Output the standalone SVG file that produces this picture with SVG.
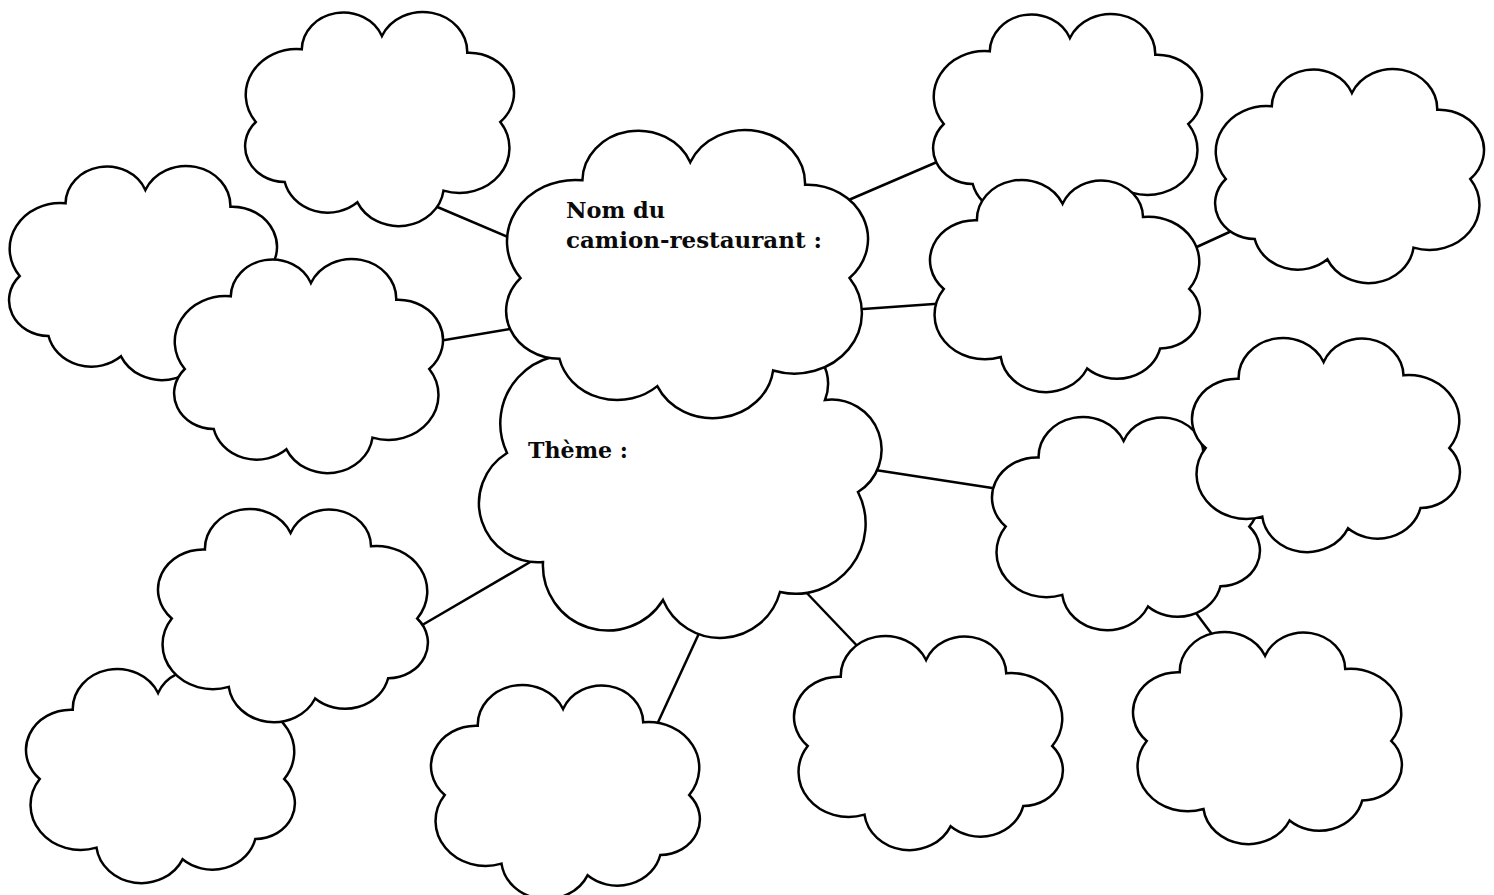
<svg xmlns="http://www.w3.org/2000/svg" xmlns:xlink="http://www.w3.org/1999/xlink" width="1494" height="895" viewBox="0 0 1494 895">
<style>
.conn line { stroke:#000; stroke-width:2.5; stroke-linecap:butt; }
.blob { fill:#fff; stroke:#000; stroke-width:2.5; stroke-linejoin:miter; }
.label { font-family:"DejaVu Serif", "Liberation Serif", serif; font-weight:bold; font-size:23px; fill:#0a0a0a; }
</style>
<defs>
<path id="cloudShape" d="M 126,122 A 120 120 0 0 1 356,72 A 112 112 0 0 1 572,112 A 137 137 0 0 1 696,330 A 107 107 0 0 1 618,510 A 119 119 0 0 1 422,571 A 122 122 0 0 1 190,536 A 135 135 0 0 1 37,330 A 121 121 0 0 1 126,122 Z" fill="#fff" stroke="#000" stroke-width="2.5" vector-effect="non-scaling-stroke"/>
</defs>
<rect width="1494" height="895" fill="#fff"/>
<g id="connectors" class="conn">
<line x1="428" y1="203" x2="522" y2="243"/>
<line x1="433" y1="342" x2="516" y2="328"/>
<line x1="844" y1="202" x2="944" y2="159"/>
<line x1="849" y1="310" x2="948" y2="303"/>
<line x1="1188" y1="251" x2="1236" y2="229"/>
<line x1="872" y1="469.5" x2="1002" y2="489.5"/>
<line x1="412" y1="631" x2="537" y2="558"/>
<line x1="701" y1="629" x2="654" y2="731"/>
<line x1="803" y1="589" x2="864" y2="653"/>
<line x1="1190" y1="605" x2="1217" y2="641"/>
</g>
<g id="cloud-left-back"><use href="#cloudShape" transform="translate(277,166) scale(-0.3697,0.3333)"/></g>
<g id="cloud-left-front"><use href="#cloudShape" transform="translate(443,259) scale(-0.3710,0.3333)"/></g>
<g id="cloud-top-left"><use href="#cloudShape" transform="translate(514,12) scale(-0.3710,0.3333)"/></g>
<g id="cloud-theme">
<path class="blob" d="M 592,359 A 68.5 68.5 0 0 0 507,453 A 59 59 0 0 0 543,562 A 65 65 0 0 0 663,600 A 62 62 0 0 0 780,592 A 70 70 0 0 0 858,492 A 50 50 0 0 0 825,400 A 45 45 0 0 0 760,345 A 50 50 0 0 0 675,345 A 50 50 0 0 0 592,359 Z"/>
<text class="label" x="528" y="458" textLength="100" lengthAdjust="spacingAndGlyphs">Thème :</text>
</g>
<g id="cloud-nom">
<use href="#cloudShape" transform="translate(868,130) scale(-0.4993,0.4486)"/>
<text class="label" x="566" y="218" textLength="99" lengthAdjust="spacingAndGlyphs">Nom du</text>
<text class="label" x="566" y="248" textLength="256" lengthAdjust="spacingAndGlyphs">camion-restaurant :</text>
</g>
<g id="cloud-top-right"><use href="#cloudShape" transform="translate(1202,14) scale(-0.3710,0.3333)"/></g>
<g id="cloud-right-2"><use href="#cloudShape" transform="translate(930,180) scale(0.3724,0.3302)"/></g>
<g id="cloud-far-top-right"><use href="#cloudShape" transform="translate(1484,69) scale(-0.3710,0.3333)"/></g>
<g id="cloud-right-3"><use href="#cloudShape" transform="translate(992,417) scale(0.3697,0.3318)"/></g>
<g id="cloud-right-4"><use href="#cloudShape" transform="translate(1192,338) scale(0.3697,0.3333)"/></g>
<g id="cloud-bottom-right"><use href="#cloudShape" transform="translate(1133,632) scale(0.3710,0.3302)"/></g>
<g id="cloud-bottom-center-right"><use href="#cloudShape" transform="translate(794,636) scale(0.3710,0.3333)"/></g>
<g id="cloud-bottom-center"><use href="#cloudShape" transform="translate(431,685) scale(0.3710,0.3333)"/></g>
<g id="cloud-bottom-left"><use href="#cloudShape" transform="translate(26,669) scale(0.3710,0.3333)"/></g>
<g id="cloud-left-lower"><use href="#cloudShape" transform="translate(158,509) scale(0.3724,0.3318)"/></g>
</svg>
